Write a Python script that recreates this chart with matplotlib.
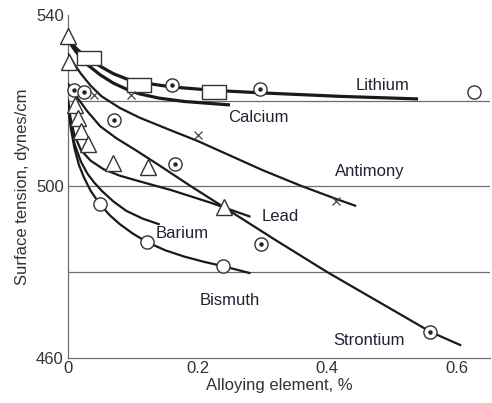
import numpy as np
import matplotlib
matplotlib.use('Agg')
import matplotlib.pyplot as plt
from matplotlib.path import Path

plt.rcParams.update({
    'font.family': ['Liberation Sans', 'DejaVu Sans'],
    'font.size': 12,
})

# curves (alloying %, surface tension)
li_x = [0.003, 0.012, 0.02, 0.032, 0.05, 0.07, 0.09, 0.11, 0.16, 0.225, 0.30, 0.42, 0.54]
li_y = [534.0, 532.3, 531.2, 530.0, 528.0, 526.3, 525.1, 524.3, 523.2, 522.4, 521.8, 521.0, 520.4]
ca_x = [0.003, 0.012, 0.02, 0.03, 0.05, 0.07, 0.09, 0.11, 0.14, 0.18, 0.25]
ca_y = [533.5, 531.5, 530.0, 528.4, 526.0, 524.1, 522.7, 521.6, 520.6, 519.8, 519.0]
sb_x = [0.0, 0.01, 0.02, 0.035, 0.052, 0.08, 0.111, 0.16, 0.20, 0.25, 0.30, 0.36, 0.415, 0.443]
sb_y = [531.0, 528.5, 526.3, 523.5, 521.0, 518.3, 516.0, 513.0, 510.6, 507.2, 503.8, 500.1, 497.0, 495.5]
sr_x = [0.0, 0.009, 0.018, 0.03, 0.05, 0.075, 0.103, 0.142, 0.19, 0.24, 0.32, 0.40, 0.48, 0.56, 0.605]
sr_y = [524.0, 521.8, 520.0, 517.5, 514.0, 511.2, 508.6, 504.8, 500.0, 495.2, 487.5, 480.0, 473.0, 466.0, 463.0]
pb_x = [0.0, 0.004, 0.01, 0.02, 0.035, 0.055, 0.08, 0.11, 0.16, 0.22, 0.28]
pb_y = [520.0, 516.0, 512.0, 508.5, 506.0, 504.0, 502.5, 501.2, 499.1, 496.2, 493.0]
ba_x = [0.0, 0.004, 0.01, 0.02, 0.03, 0.04, 0.052, 0.07, 0.09, 0.115, 0.14]
ba_y = [520.0, 515.0, 510.0, 505.8, 503.0, 501.0, 499.0, 496.5, 494.3, 492.5, 491.2]
bi_x = [0.0, 0.004, 0.01, 0.017, 0.025, 0.035, 0.049, 0.065, 0.08, 0.10, 0.122,
        0.15, 0.18, 0.21, 0.239, 0.28]
bi_y = [520.0, 514.0, 509.0, 505.0, 502.0, 499.0, 495.9, 493.2, 491.2, 489.0, 487.0,
        485.1, 483.6, 482.4, 481.4, 479.8]

# measured points
tri_x = [0.0, 0.002, 0.011, 0.015, 0.02, 0.031, 0.07, 0.123, 0.24]
tri_y = [535.0, 529.0, 519.0, 516.0, 513.0, 510.0, 505.5, 504.5, 495.2]
sq_x = [0.032, 0.11, 0.225]
sq_y = [530.0, 523.6, 522.0]
dot_x = [0.009, 0.025, 0.071, 0.16, 0.296, 0.165, 0.298, 0.559]
dot_y = [522.5, 522.0, 515.4, 523.6, 522.7, 505.2, 486.6, 466.0]
circ_x = [0.049, 0.122, 0.239, 0.627]
circ_y = [496.0, 487.0, 481.4, 522.0]
cross_x = [0.04, 0.097, 0.20, 0.414]
cross_y = [521.3, 521.3, 512.0, 496.6]

labels = ['Lithium', 'Calcium', 'Antimony', 'Lead', 'Barium', 'Bismuth', 'Strontium']
label_x = [0.486, 0.293, 0.466, 0.327, 0.176, 0.25, 0.464]
label_y = [523.6, 516.1, 503.4, 493.0, 489.0, 473.3, 464.0]

fig = plt.figure(figsize=(4.92, 4.03), dpi=100)
ax = fig.add_axes([0.138, 0.112, 0.858, 0.851])

grey = '#6e6e6e'
for yv in [520, 500, 480]:
    ax.axhline(yv, color=grey, lw=0.9, zorder=1)

ink = '#1a1a1a'
ax.plot(li_x, li_y, color=ink, lw=2.3, zorder=3, solid_capstyle='butt')
ax.plot(ca_x, ca_y, color=ink, lw=2.3, zorder=3, solid_capstyle='butt')
for xs, ys in [(sb_x, sb_y), (sr_x, sr_y), (pb_x, pb_y), (ba_x, ba_y), (bi_x, bi_y)]:
    ax.plot(xs, ys, color=ink, lw=1.6, zorder=3, solid_joinstyle='round')

# wide rectangle marker
rect = Path([(-1.7, -1), (1.7, -1), (1.7, 1), (-1.7, 1), (-1.7, -1)],
            [Path.MOVETO, Path.LINETO, Path.LINETO, Path.LINETO, Path.CLOSEPOLY])

mk = dict(linestyle='none', markerfacecolor='white', markeredgecolor='#333333',
          markeredgewidth=1.0, zorder=5, clip_on=False)
ax.plot(tri_x, tri_y, marker='^', markersize=11, **mk)
ax.plot(sq_x, sq_y, marker=rect, markersize=17, **mk)
ax.plot(dot_x, dot_y, marker='o', markersize=9.5, **mk)
ax.plot(dot_x, dot_y, linestyle='none', marker='o', markersize=2.2,
        color='#222222', zorder=6, clip_on=False)
ax.plot(circ_x, circ_y, marker='o', markersize=9.5, **mk)
ax.plot(cross_x, cross_y, linestyle='none', marker='x', markersize=6,
        color='#444444', markeredgewidth=0.9, zorder=5)

for t, lx, ly in zip(labels, label_x, label_y):
    ax.text(lx, ly, t, ha='center', va='center', fontsize=12, color='#222233',
            zorder=7)

ax.set_xlim(0, 0.651)
ax.set_ylim(460, 540)
ax.set_xticks([0, 0.2, 0.4, 0.6])
ax.set_xticklabels(['0', '0.2', '0.4', '0.6'])
ax.set_yticks([460, 500, 540])
ax.tick_params(length=0, labelsize=12, colors='#333333', pad=3)
ax.tick_params(axis='x', pad=2)
for s in ['top', 'right']:
    ax.spines[s].set_visible(False)
for s in ['left', 'bottom']:
    ax.spines[s].set_color(grey)
    ax.spines[s].set_linewidth(0.9)

ax.set_xlabel('Alloying element, %', fontsize=12, color='#333333', labelpad=2)
ax.set_ylabel('Surface tension, dynes/cm', fontsize=12, color='#333333', labelpad=4)

fig.savefig('out.png', dpi=100)
plt.close(fig)
